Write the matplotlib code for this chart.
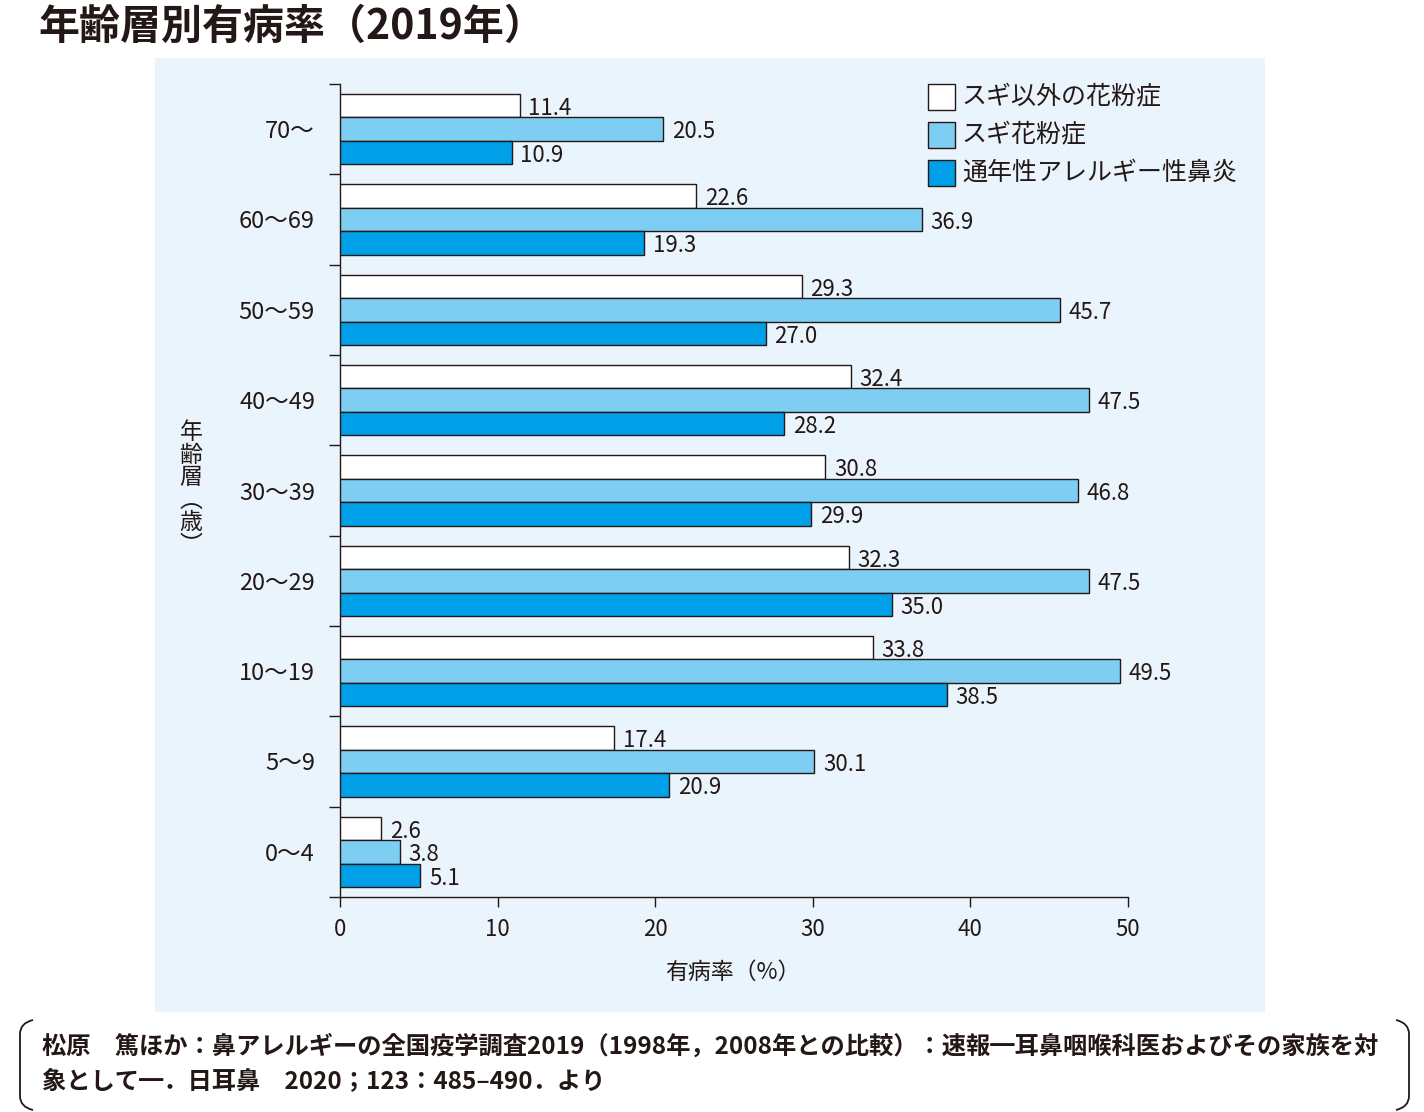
import matplotlib
matplotlib.use("Agg")
import matplotlib.pyplot as plt
from matplotlib.patches import Rectangle
from matplotlib.path import Path
from matplotlib.patches import PathPatch
import numpy as np

plt.rcParams['font.family'] = ['Noto Sans CJK JP', 'DejaVu Sans']

# ---- data ----
age_groups = ["0～4", "5～9", "10～19", "20～29", "30～39", "40～49", "50～59", "60～69", "70～"]
non_sugi = [2.6, 17.4, 33.8, 32.3, 30.8, 32.4, 29.3, 22.6, 11.4]
sugi = [3.8, 30.1, 49.5, 47.5, 46.8, 47.5, 45.7, 36.9, 20.5]
perennial = [5.1, 20.9, 38.5, 35.0, 29.9, 28.2, 27.0, 19.3, 10.9]
series_names = ["スギ以外の花粉症", "スギ花粉症", "通年性アレルギー性鼻炎"]
x_ticks = [0, 10, 20, 30, 40, 50]

title = "年齢層別有病率（2019年）"
xlabel = "有病率（%）"
ylabel = "年\n齢\n層\n︵\n歳\n︶"
source_lines = ["松原　篤ほか：鼻アレルギーの全国疫学調査2019（1998年，2008年との比較）：速報━耳鼻咽喉科医およびその家族を対",
                "象として━．日耳鼻　2020；123：485‒490．より"]

W, H = 1424, 1112
fig = plt.figure(figsize=(W / 100, H / 100), dpi=100)
fig.patch.set_facecolor("white")

def fx(px):
    return px / W

def fy(py):
    return 1 - py / H

panel_color = "#EAF4FC"
fig.patches.append(Rectangle((fx(155), fy(1012)), fx(1265) - fx(155), fy(58) - fy(1012),
                             transform=fig.transFigure, facecolor=panel_color, edgecolor="none", zorder=-5))

ax = fig.add_axes([fx(340), fy(897), fx(1128) - fx(340), fy(84) - fy(897)])
ax.set_facecolor("none")
ax.set_zorder(2)

colors = ["#FFFFFF", "#7ECEF4", "#00A0E9"]
vals = [non_sugi, sugi, perennial]
y = np.arange(len(age_groups))
h = 0.26
offsets = [h, 0, -h]
num_font = ['Noto Sans CJK JP', 'DejaVu Sans']
for v, c, off, name in zip(vals, colors, offsets, series_names):
    ax.barh(y + off, v, height=h, color=c, edgecolor="#231815", linewidth=1.0, label=name, zorder=3)
    for yi, vi in zip(y, v):
        ax.text(vi + 0.55, yi + off - 0.03, f"{vi:.1f}", va="center", ha="left", fontsize=16,
                color="#231815", family=num_font)

ax.set_xlim(0, 50)
ax.set_ylim(-0.5, len(age_groups) - 0.5)
for s in ["top", "right"]:
    ax.spines[s].set_visible(False)
for s in ["left", "bottom"]:
    ax.spines[s].set_color("#231815")
    ax.spines[s].set_linewidth(1.0)

ax.set_xticks(x_ticks)
ax.set_xticklabels([str(t) for t in x_ticks], family=num_font, fontsize=16, color="#231815")
ax.tick_params(axis="x", direction="out", length=7, width=1.0, color="#231815", pad=8)

ax.set_yticks(y)
ax.set_yticklabels(age_groups, family=num_font, fontsize=17, color="#231815")
ax.tick_params(axis="y", which="major", length=0, pad=18)
ax.set_yticks(np.arange(-0.5, len(age_groups), 1.0), minor=True)
ax.tick_params(axis="y", which="minor", direction="out", length=8, width=1.0, color="#231815")

# x label
fig.text(fx(733), fy(972), xlabel, ha="center", va="center", fontsize=16.5, color="#231815")
# y label (vertical)
fig.text(fx(191), fy(489), ylabel, ha="center", va="center", fontsize=16.5, color="#231815",
         linespacing=0.98)

# legend
leg_y = [97, 135, 173]
for name, c, ly in zip(series_names, colors, leg_y):
    fig.patches.append(Rectangle((fx(928), fy(ly + 13)), fx(955) - fx(928), fy(ly - 13) - fy(ly + 13),
                                 transform=fig.transFigure, facecolor=c, edgecolor="#231815",
                                 linewidth=1.0, zorder=3))
    fig.text(fx(962), fy(ly), name, ha="left", va="center", fontsize=18, color="#231815")

# title
fig.text(fx(38), fy(27), title, ha="left", va="center", fontsize=29.5, color="#231815",
         fontweight="bold")

# source text
fig.text(fx(42), fy(1047), source_lines[0], ha="left", va="center", fontsize=17.5, color="#231815",
         fontweight="bold")
fig.text(fx(42), fy(1082), source_lines[1], ha="left", va="center", fontsize=17.5, color="#231815",
         fontweight="bold")

# brackets
def bracket(x_outer, x_inner, y0, y1):
    verts = [(fx(x_inner), fy(y0)), (fx(x_outer), fy(y0 + 3)), (fx(x_outer), fy(y0 + 14)),
             (fx(x_outer), fy(y1 - 14)),
             (fx(x_outer), fy(y1 - 14)), (fx(x_outer), fy(y1 - 3)), (fx(x_inner), fy(y1))]
    codes = [Path.MOVETO, Path.CURVE3, Path.CURVE3, Path.LINETO, Path.MOVETO, Path.CURVE3, Path.CURVE3]
    p = PathPatch(Path(verts, codes), transform=fig.transFigure, facecolor="none",
                  edgecolor="#231815", linewidth=1.3)
    fig.patches.append(p)

bracket(20, 33, 1020, 1110)
bracket(1409, 1396, 1020, 1110)

fig.savefig("out.png", dpi=100, facecolor="white")
